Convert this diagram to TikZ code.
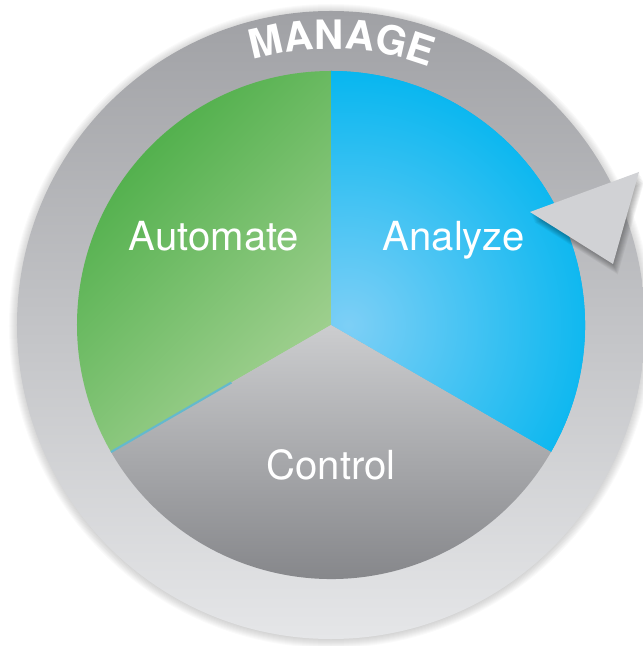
\documentclass[tikz,border=0pt]{standalone}
\usepackage{fontspec}
\setmainfont{TeX Gyre Heros}
\usetikzlibrary{decorations.text}

\definecolor{ringTop}{RGB}{160,161,165}
\definecolor{ringMid}{RGB}{212,213,215}
\definecolor{ringBot}{RGB}{229,230,232}
\definecolor{autoDark}{RGB}{72,172,68}
\definecolor{autoLight}{RGB}{165,210,148}
\definecolor{anaBlue}{RGB}{0,181,239}
\definecolor{anaLight}{RGB}{125,207,246}
\definecolor{ctrlTop}{RGB}{204,205,207}
\definecolor{ctrlBot}{RGB}{124,125,129}
\definecolor{arrowGray}{RGB}{209,210,213}
\definecolor{seamBlue}{RGB}{100,185,205}

\tikzset{
	segtext/.style={text=white, anchor=base, inner sep=0pt, font=\fontsize{11.4}{13}\selectfont},
}

\begin{document}
\begin{tikzpicture}[x=0.01cm, y=0.01cm]
	\useasboundingbox (-331,-321) rectangle (312,325);
	% soft shadow round the ring
	\foreach \r in {1,...,9}
		\fill[black, opacity=0.02] (0,-1) circle (313+\r);
	\shade[top color=ringTop, middle color=ringMid, bottom color=ringBot] (0,0) circle (314);
	% the three segments
	\shade[top color=autoDark, bottom color=autoLight, shading angle=45] (0,0) -- (90:254) arc (90:210:254) -- cycle;
	\fill[anaBlue] (0,0) -- (-30:254) arc (-30:90:254) -- cycle;
	\begin{scope}
		\clip (0,0) -- (-30:254) arc (-30:90:254) -- cycle;
		\shade[inner color=anaLight, outer color=anaBlue] (17,0) circle (270);
	\end{scope}
	\shade[top color=ctrlTop, bottom color=ctrlBot] (0,0) -- (210:254) arc (210:330:254) -- cycle;
	\draw[seamBlue, line width=0.6] (210:115) -- (210:254);
	% arrow head of the ring
	\coordinate (tip) at (199,113);
	\coordinate (barbUp) at (308,153);
	\coordinate (barbDown) at (282,61);
	\foreach \k in {1,...,8}
		\fill[black, opacity=0.045] ([shift={(0.6*\k,-1.3*\k)}]tip) -- ([shift={(0.6*\k,-1.3*\k)}]barbUp) -- ([shift={(0.6*\k,-1.3*\k)}]barbDown) -- cycle;
	\fill[arrowGray] (tip) -- (barbUp) -- (barbDown) -- cycle;
	% labels
	\path[decorate, decoration={text along path, text color=white, text align=center,
		text={|\bfseries\fontsize{11.5}{14}\selectfont|MANAGE}}] (117:276) arc (117:58.5:276);
	\node[segtext] (automate) at (-117,74) {Automate};
	\node[segtext] (analyze) at (123,74) {Analyze};
	\node[segtext] (control) at (0,-154) {Control};
\end{tikzpicture}
\end{document}
